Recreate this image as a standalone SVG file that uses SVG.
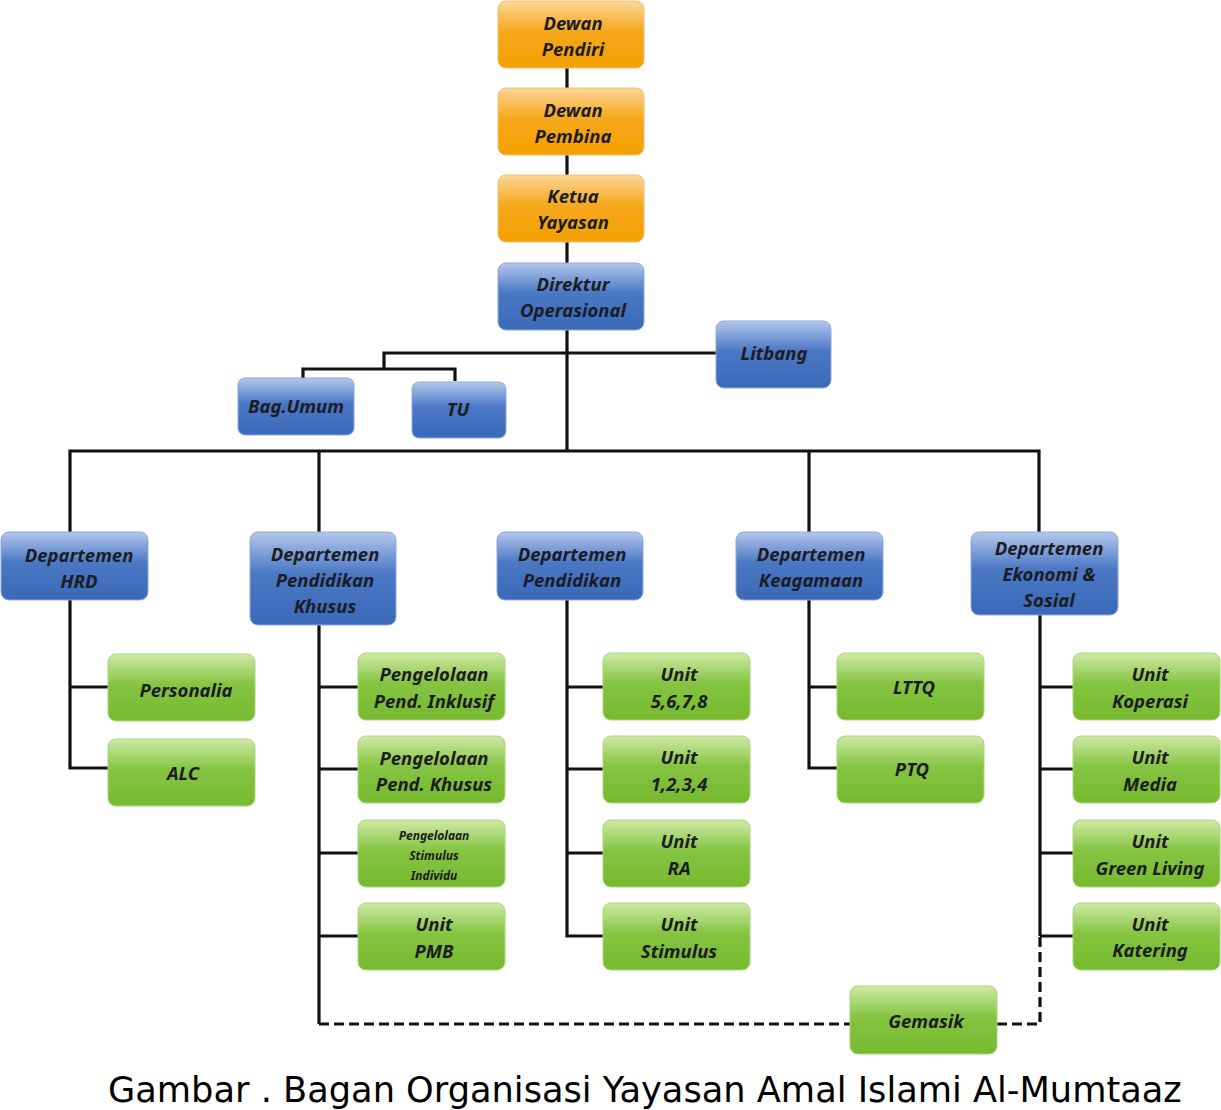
<svg xmlns="http://www.w3.org/2000/svg" width="1221" height="1110" viewBox="0 0 1221 1110">
<defs>
<linearGradient id="gO" x1="0" y1="0" x2="0" y2="1">
<stop offset="0" stop-color="#fcd79a"/><stop offset="0.45" stop-color="#f6a81c"/><stop offset="1" stop-color="#f4a000"/>
</linearGradient>
<linearGradient id="gB" x1="0" y1="0" x2="0" y2="1">
<stop offset="0" stop-color="#b4c7ec"/><stop offset="0.45" stop-color="#4a78c4"/><stop offset="1" stop-color="#3a69b9"/>
</linearGradient>
<linearGradient id="gG" x1="0" y1="0" x2="0" y2="1">
<stop offset="0" stop-color="#cfeaa6"/><stop offset="0.45" stop-color="#86c442"/><stop offset="1" stop-color="#76b92e"/>
</linearGradient>
<style>
.o{fill:url(#gO);stroke:#f0c070;stroke-width:1}
.b{fill:url(#gB);stroke:#8fa8d8;stroke-width:1}
.g{fill:url(#gG);stroke:#a8d67a;stroke-width:1}
text{font-family:"Noto Sans","Open Sans","DejaVu Sans",sans-serif;font-style:italic;font-weight:700;font-size:18.5px;fill:#1c1c24;text-anchor:middle}
.sm{font-size:12px}
.cap{font-family:"DejaVu Sans",sans-serif;font-style:normal;font-weight:normal;font-size:35.2px;fill:#000;text-anchor:start}
.ln{fill:none;stroke:#111;stroke-width:3.2}
.ds{fill:none;stroke:#111;stroke-width:3.2;stroke-dasharray:10 5}
</style>
</defs>
<g id="connectors">
<path class="ln" d="M567 68V263M567 330V451M567 353H716M567 353H384V369M303 378V369H455V381"/>
<path class="ln" d="M70 532V451H1039V532M319 451V532M809 451V532"/>
<path class="ln" d="M70 600V768H108M70 687H108"/>
<path class="ln" d="M319 625V1024M319 687H358M319 769H358M319 853H358M319 936H358"/>
<path class="ln" d="M567 600V936H603M567 687H603M567 769H603M567 853H603"/>
<path class="ln" d="M809 600V768H837M809 687H837"/>
<path class="ln" d="M1040 615V936M1040 687H1073M1040 769H1073M1040 853H1073M1040 936H1073"/>
<path class="ds" d="M319 1024H850M997 1024H1040V936"/>
</g>
<g id="dewan-pendiri"><rect class="o" x="498" y="1" width="146" height="67" rx="8"/><text x="573" y="30">Dewan</text><text x="573" y="56">Pendiri</text></g>
<g id="dewan-pembina"><rect class="o" x="498" y="88" width="146" height="67" rx="8"/><text x="573" y="117">Dewan</text><text x="573" y="143">Pembina</text></g>
<g id="ketua-yayasan"><rect class="o" x="498" y="175" width="146" height="67" rx="8"/><text x="573" y="203">Ketua</text><text x="573" y="229">Yayasan</text></g>
<g id="direktur"><rect class="b" x="498" y="263" width="146" height="67" rx="8"/><text x="573" y="291">Direktur</text><text x="573" y="317">Operasional</text></g>
<g id="litbang"><rect class="b" x="716" y="321" width="115" height="67" rx="8"/><text x="774" y="360">Litbang</text></g>
<g id="bag-umum"><rect class="b" x="238" y="378" width="116" height="57" rx="7"/><text x="296" y="413">Bag.Umum</text></g>
<g id="tu"><rect class="b" x="412" y="382" width="94" height="56" rx="7"/><text x="458" y="416">TU</text></g>
<g id="dept-hrd"><rect class="b" x="1" y="532" width="147" height="68" rx="8"/><text x="79" y="562">Departemen</text><text x="79" y="588">HRD</text></g>
<g id="dept-pk"><rect class="b" x="250" y="532" width="146" height="93" rx="8"/><text x="325" y="561">Departemen</text><text x="325" y="587">Pendidikan</text><text x="325" y="613">Khusus</text></g>
<g id="dept-pend"><rect class="b" x="497" y="532" width="146" height="68" rx="8"/><text x="572" y="561">Departemen</text><text x="572" y="587">Pendidikan</text></g>
<g id="dept-keag"><rect class="b" x="736" y="532" width="147" height="68" rx="8"/><text x="811" y="561">Departemen</text><text x="811" y="587">Keagamaan</text></g>
<g id="dept-eko"><rect class="b" x="971" y="532" width="147" height="83" rx="8"/><text x="1049" y="555">Departemen</text><text x="1049" y="581">Ekonomi &amp;</text><text x="1049" y="607">Sosial</text></g>
<g id="personalia"><rect class="g" x="108" y="654" width="147" height="67" rx="8"/><text x="186" y="697">Personalia</text></g>
<g id="alc"><rect class="g" x="108" y="739" width="147" height="67" rx="8"/><text x="183" y="780">ALC</text></g>
<g id="ppi"><rect class="g" x="358" y="653" width="147" height="67" rx="8"/><text x="434" y="681">Pengelolaan</text><text x="434" y="708">Pend. Inklusif</text></g>
<g id="ppk"><rect class="g" x="358" y="736" width="147" height="67" rx="8"/><text x="434" y="765">Pengelolaan</text><text x="434" y="791">Pend. Khusus</text></g>
<g id="psi"><rect class="g" x="358" y="820" width="147" height="67" rx="8"/><text class="sm" x="434" y="840">Pengelolaan</text><text class="sm" x="434" y="860">Stimulus</text><text class="sm" x="434" y="880">Individu</text></g>
<g id="pmb"><rect class="g" x="358" y="903" width="147" height="67" rx="8"/><text x="434" y="931">Unit</text><text x="434" y="958">PMB</text></g>
<g id="u5678"><rect class="g" x="603" y="653" width="147" height="67" rx="8"/><text x="679" y="681">Unit</text><text x="679" y="708">5,6,7,8</text></g>
<g id="u1234"><rect class="g" x="603" y="736" width="147" height="67" rx="8"/><text x="679" y="764">Unit</text><text x="679" y="791">1,2,3,4</text></g>
<g id="ura"><rect class="g" x="603" y="820" width="147" height="67" rx="8"/><text x="679" y="848">Unit</text><text x="679" y="875">RA</text></g>
<g id="ustim"><rect class="g" x="603" y="903" width="147" height="67" rx="8"/><text x="679" y="931">Unit</text><text x="679" y="958">Stimulus</text></g>
<g id="lttq"><rect class="g" x="837" y="653" width="147" height="67" rx="8"/><text x="914" y="694">LTTQ</text></g>
<g id="ptq"><rect class="g" x="837" y="736" width="147" height="67" rx="8"/><text x="912" y="776">PTQ</text></g>
<g id="ukop"><rect class="g" x="1073" y="653" width="147" height="67" rx="8"/><text x="1150" y="681">Unit</text><text x="1150" y="708">Koperasi</text></g>
<g id="umedia"><rect class="g" x="1073" y="736" width="147" height="67" rx="8"/><text x="1150" y="764">Unit</text><text x="1150" y="791">Media</text></g>
<g id="ugreen"><rect class="g" x="1073" y="820" width="147" height="67" rx="8"/><text x="1150" y="848">Unit</text><text x="1150" y="875">Green Living</text></g>
<g id="ukater"><rect class="g" x="1073" y="903" width="147" height="67" rx="8"/><text x="1150" y="931">Unit</text><text x="1150" y="957">Katering</text></g>
<g id="gemasik"><rect class="g" x="850" y="986" width="147" height="68" rx="8"/><text x="926" y="1028">Gemasik</text></g>
<text class="cap" x="108" y="1102">Gambar . Bagan Organisasi Yayasan Amal Islami Al-Mumtaaz</text>
</svg>
